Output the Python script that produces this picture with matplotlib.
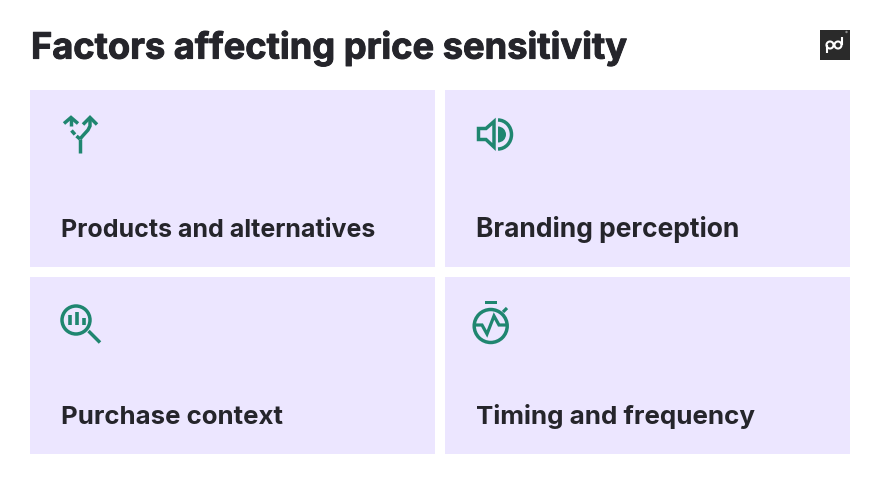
import matplotlib.pyplot as plt
import matplotlib.patheffects as pe
from matplotlib.patches import Rectangle, Circle, Wedge, Arc, Polygon

TITLE = "Factors affecting price sensitivity"
LABELS = ["Products and alternatives", "Branding perception", "Purchase context", "Timing and frequency"]
LABEL_SIZES = [18, 19, 18.6, 18.7]
CARD_X = [30, 445, 30, 445]
CARD_Y = [90, 90, 277, 277]

CARD = "#ECE6FF"
GREEN = "#1F8670"
DARK = "#25252B"

plt.rcParams['font.family'] = ['Inter', 'DejaVu Sans']

fig = plt.figure(figsize=(8.8, 4.84), dpi=100)
ax = fig.add_axes([0, 0, 1, 1])
ax.set_xlim(0, 880)
ax.set_ylim(484, 0)
ax.axis("off")


def line(xs, ys, lw=2.3, color=GREEN, cap="butt"):
    ax.plot(xs, ys, color=color, lw=lw, solid_capstyle=cap, solid_joinstyle="miter")


title = ax.text(31, 58.6, TITLE, fontsize=26.1, fontweight="bold", color=DARK, va="baseline")
title.set_path_effects([pe.withStroke(linewidth=0.7, foreground=DARK)])

for x, y, label, size in zip(CARD_X, CARD_Y, LABELS, LABEL_SIZES):
    ax.add_patch(Rectangle((x, y), 405, 177, fc=CARD, ec="none"))
    ax.text(x + 30.6, y + 147.2, label, fontsize=size, fontweight="bold", color=DARK, va="baseline")

# fork icon
line([80, 80], [153, 139], lw=2.5)
line([80, 83, 88, 90, 90], [139, 135.5, 130, 126, 118], lw=2.5)
line([83, 90, 97], [124.5, 117.5, 124.5], lw=2.5)
line([71, 71], [118, 126], lw=2.5)
line([64, 71, 78], [123.5, 117.5, 123.5], lw=2.5)
line([80, 76.5], [139, 136], lw=2.5)
line([75, 71.5], [134.5, 130.5], lw=2.5)

# speaker icon
ax.add_patch(Polygon([(478.5, 128.5), (486, 128.5), (494, 121.5), (494, 147), (486, 139.5), (478.5, 139.5)],
                     fc="none", ec=GREEN, lw=2.5, joinstyle="miter"))
ax.add_patch(Wedge((498, 134.5), 8, -90, 90, fc=GREEN, ec="none"))
ax.add_patch(Arc((498, 134.5), 27, 29, theta1=-90, theta2=90, ec=GREEN, lw=2.5))

# magnifier icon
ax.add_patch(Circle((76, 320), 14, fc="none", ec=GREEN, lw=2.5))
line([70, 70], [315, 325], lw=2.6)
line([76.7, 76.7], [312, 325], lw=2.6)
line([84, 84], [318, 325], lw=2.6)
line([88.5, 100], [331, 342.5], lw=2.5)

# stopwatch icon
ax.add_patch(Circle((490.7, 326), 16.5, fc="none", ec=GREEN, lw=2.5))
ax.add_patch(Rectangle((484.7, 300.5), 12.3, 3, fc=GREEN, ec="none"))
line([503, 507], [312, 308], lw=2.3)
line([474, 482, 487, 494, 499, 508], [325, 325, 334, 316, 325, 325], lw=2.3)

# logo
ax.add_patch(Rectangle((820, 30), 30, 30, fc="#2A2A2A", ec="none"))
ax.add_patch(Arc((830, 45), 7, 7, fc="none", ec="white", lw=1.5))
ax.add_patch(Arc((838, 45), 7, 7, fc="none", ec="white", lw=1.5))
line([826.5, 826.5], [45, 53], lw=1.5, color="white")
line([841.5, 841.5], [37, 45], lw=1.5, color="white")
ax.add_patch(Circle((846.5, 32), 1.2, fc="#8A8A8A", ec="none"))

fig.savefig("out.png", dpi=100)
